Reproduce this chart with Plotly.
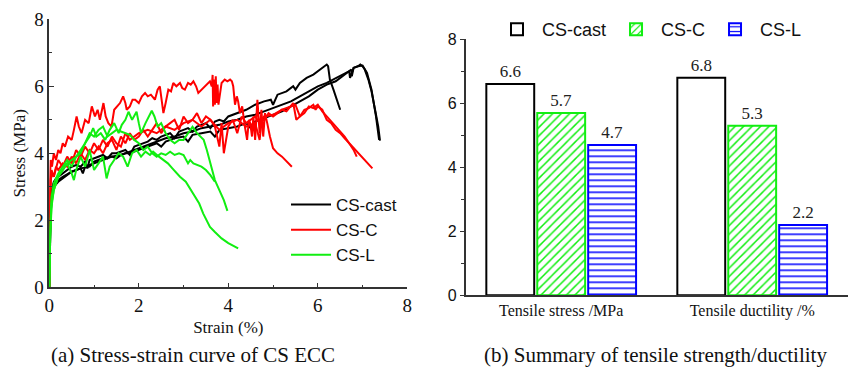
import plotly.graph_objects as go

SERIF = "Liberation Serif"
SANS = "Liberation Sans"

# ---------------- (a) stress-strain curves ----------------
cast1_x = [0, 0.01, 0.03, 0.06, 0.1, 0.15, 0.2, 0.3, 0.4, 0.5, 0.6, 0.7, 0.8, 0.85, 0.9, 1.0, 1.1, 1.2, 1.3, 1.4,
           1.5, 1.6, 1.7, 1.8, 1.9, 2.0, 2.1, 2.2, 2.3, 2.4, 2.5, 2.6, 2.7, 2.8, 2.9, 3.0, 3.1, 3.2, 3.3, 3.4,
           3.5, 3.6, 3.7, 3.8, 3.9, 4.0, 4.2, 4.4, 4.6, 4.8, 4.95, 5.0, 5.1, 5.2, 5.3, 5.45, 5.5, 5.6, 5.75,
           5.9, 6.0, 6.1, 6.2, 6.23, 6.27, 6.35, 6.45, 6.5]
cast1_y = [0, 1.5, 2.4, 2.9, 3.15, 3.25, 3.3, 3.4, 3.5, 3.6, 3.65, 3.6, 3.75, 3.55, 3.8, 3.85, 3.9, 3.95, 3.85, 4.0,
           4.0, 4.05, 4.1, 3.95, 4.2, 4.25, 4.3, 4.35, 4.45, 4.4, 4.5, 4.55, 4.6, 4.45, 4.65, 4.7, 4.75, 4.65, 4.8, 4.85,
           4.9, 4.75, 4.95, 5.0, 4.95, 5.1, 5.2, 5.3, 5.45, 5.55, 5.6, 5.45, 5.75, 5.8, 5.85, 6.0, 5.9, 6.1, 6.25,
           6.35, 6.45, 6.55, 6.65, 6.6, 6.2, 5.9, 5.5, 5.3]

cast2_x = [0, 0.01, 0.03, 0.06, 0.1, 0.2, 0.3, 0.4, 0.5, 0.6, 0.7, 0.75, 0.8, 0.9, 1.0, 1.1, 1.2, 1.3, 1.4, 1.5,
           1.6, 1.7, 1.8, 1.9, 2.0, 2.2, 2.4, 2.5, 2.6, 2.8, 3.0, 3.1, 3.2, 3.4, 3.6, 3.7, 3.8, 4.0, 4.2, 4.4,
           4.5, 4.6, 4.8, 5.0, 5.2, 5.4, 5.6, 5.8, 6.0, 6.2, 6.4, 6.5, 6.6, 6.7, 6.75, 6.76, 6.8, 6.9, 6.95,
           7.0, 7.05, 7.13, 7.2, 7.28, 7.35, 7.39]
cast2_y = [0, 1.3, 2.2, 2.7, 3.0, 3.15, 3.25, 3.35, 3.45, 3.5, 3.55, 3.4, 3.6, 3.65, 3.7, 3.75, 3.8, 3.85, 3.9, 3.85,
           3.95, 4.0, 4.0, 4.05, 4.1, 4.2, 4.3, 4.2, 4.35, 4.45, 4.5, 4.35, 4.55, 4.6, 4.65, 4.5, 4.7, 4.75, 4.8, 4.9,
           4.75, 4.95, 5.05, 5.15, 5.25, 5.4, 5.55, 5.7, 5.9, 6.05, 6.15, 6.25, 6.35, 6.45, 6.5, 6.3, 6.55, 6.6, 6.65,
           6.6, 6.5, 6.2, 5.85, 5.3, 4.8, 4.38]

cast3_x = [0, 0.02, 0.05, 0.1, 0.2, 0.3, 0.5, 0.7, 0.9, 1.0, 1.2, 1.4, 1.6, 1.8, 2.0, 2.2, 2.4, 2.6, 2.8, 3.0,
           3.2, 3.4, 3.6, 3.8, 4.0, 4.2, 4.4, 4.6, 4.8, 5.0, 5.2, 5.4, 5.6, 5.8, 6.0, 6.2, 6.4, 6.6, 6.7, 6.72,
           6.8, 6.9, 7.0, 7.1, 7.2, 7.3, 7.37]
cast3_y = [0, 2.0, 2.8, 3.1, 3.2, 3.3, 3.45, 3.55, 3.6, 3.75, 3.85, 3.9, 3.95, 4.05, 4.15, 4.25, 4.35, 4.45, 4.5, 4.6,
           4.65, 4.75, 4.8, 4.85, 4.95, 5.0, 5.1, 5.15, 5.25, 5.35, 5.45, 5.55, 5.7, 5.85, 6.0, 6.1, 6.25, 6.4, 6.45, 6.25,
           6.55, 6.6, 6.62, 6.4, 5.9, 5.1, 4.4]

c1_x = [0, 0.01, 0.03, 0.06, 0.1, 0.15, 0.2, 0.25, 0.3, 0.35, 0.42, 0.5, 0.55, 0.61, 0.66, 0.72, 0.8, 0.88, 0.95,
        1.02, 1.08, 1.13, 1.21, 1.26, 1.32, 1.39, 1.45, 1.52, 1.58, 1.65, 1.7, 1.73, 1.8, 1.86, 1.92, 2.0, 2.07,
        2.14, 2.2, 2.27, 2.36, 2.42, 2.47, 2.52, 2.55, 2.6, 2.66, 2.72, 2.77, 2.84, 2.92, 2.97, 3.03, 3.1, 3.16,
        3.22, 3.28, 3.33, 3.4, 3.48, 3.54, 3.59, 3.63, 3.65, 3.66, 3.68, 3.7, 3.72, 3.74, 3.76, 3.78, 3.85, 3.92,
        3.98, 4.04, 4.08, 4.11, 4.15, 4.19, 4.22, 4.26, 4.31, 4.37, 4.42, 4.46, 4.49, 4.53, 4.56, 4.6, 4.65, 4.7,
        4.74, 4.78, 4.82, 4.87, 4.93, 5.0, 5.1, 5.2, 5.3, 5.42]
c1_y = [0, 3.0, 3.8, 3.6, 4.0, 3.8, 4.1, 4.0, 4.3, 4.2, 4.5, 4.4, 4.7, 5.1, 4.8, 4.6, 5.0, 4.9, 5.4,
        5.1, 5.3, 5.0, 5.5, 5.1, 4.9, 4.8, 5.3, 5.4, 5.5, 5.7, 5.5, 5.3, 5.4, 5.6, 5.6, 5.5, 5.7,
        5.8, 5.7, 5.75, 5.6, 5.9, 6.0, 5.5, 5.2, 5.5, 5.9, 5.85, 6.1, 6.0, 6.1, 5.95, 5.9, 6.1, 6.05,
        6.15, 6.0, 5.8, 5.9, 6.0, 6.1, 6.15, 6.0, 6.34, 5.4, 6.2, 5.45, 6.3, 5.5, 6.05, 5.45, 6.1, 6.2,
        6.15, 6.2, 6.15, 6.0, 5.45, 5.7, 5.55, 5.2, 5.4, 4.8, 4.4, 5.0, 4.9, 4.5, 5.1, 4.4, 5.6, 4.6,
        5.3, 4.5, 5.2, 4.9, 4.5, 4.15, 4.0, 3.9, 3.75, 3.6]

c2_x = [0, 0.01, 0.03, 0.06, 0.1, 0.15, 0.2, 0.3, 0.4, 0.5, 0.6, 0.7, 0.8, 0.9, 1.0, 1.1, 1.2, 1.3, 1.4, 1.5,
        1.6, 1.7, 1.8, 1.9, 2.0, 2.1, 2.2, 2.3, 2.4, 2.5, 2.6, 2.7, 2.8, 2.9, 3.0, 3.1, 3.2, 3.3, 3.4, 3.5,
        3.6, 3.7, 3.8, 3.85, 3.9, 4.0, 4.1, 4.2, 4.3, 4.4, 4.5, 4.6, 4.7, 4.8, 4.9, 5.0, 5.1, 5.2, 5.3, 5.45,
        5.52, 5.6, 5.7, 5.8, 5.9, 5.95, 6.0, 6.1, 6.2, 6.3, 6.4, 6.5, 6.6, 6.7, 6.8, 6.9, 7.0, 7.1, 7.22]
c2_y = [0, 2.4, 3.2, 3.4, 3.3, 3.6, 3.5, 3.7, 3.6, 3.9, 3.7, 4.0, 3.8, 4.1, 4.0, 4.2, 4.0, 4.3, 4.4, 4.1,
        4.5, 4.3, 4.6, 4.4, 4.5, 4.7, 4.5, 4.7, 4.9, 4.6, 4.8, 4.9, 5.0, 4.7, 5.1, 4.9, 5.0, 5.2, 4.9, 5.1,
        5.0, 4.8, 4.2, 4.9, 4.0, 4.8, 5.0, 4.6, 5.1, 4.9, 5.0, 5.1, 4.9, 5.0, 5.2, 5.1, 5.2, 5.3, 5.25, 5.5,
        5.0, 5.1, 5.3, 5.35, 5.45, 5.3, 5.4, 5.3, 5.0, 4.9, 4.7, 4.6, 4.45, 4.3, 4.15, 4.0, 3.85, 3.7, 3.55]

c3_x = [0, 0.02, 0.05, 0.1, 0.2, 0.3, 0.4, 0.5, 0.6, 0.7, 0.8, 0.9, 1.0, 1.1, 1.2, 1.3, 1.4, 1.5, 1.6, 1.7,
        1.8, 1.9, 2.0, 2.2, 2.4, 2.6, 2.8, 3.0, 3.2, 3.4, 3.6, 3.8, 4.0, 4.2, 4.4, 4.6, 4.7, 4.75, 4.8, 5.0,
        5.2, 5.4, 5.5, 5.6, 5.7, 5.8, 5.9, 6.0, 6.1, 6.2, 6.3, 6.4, 6.5, 6.6, 6.7, 6.8, 6.87]
c3_y = [0, 2.8, 3.5, 3.3, 3.8, 3.6, 3.9, 3.7, 4.1, 3.9, 4.2, 4.0, 4.3, 4.1, 4.4, 4.2, 4.5, 4.3, 4.2, 4.6,
        4.4, 4.5, 4.6, 4.7, 4.6, 4.8, 4.7, 4.9, 5.0, 4.8, 5.0, 4.7, 4.9, 5.0, 4.8, 4.9, 4.4, 5.0, 5.1, 5.15,
        5.3, 5.4, 5.45, 5.1, 5.2, 5.4, 5.35, 5.45, 5.25, 5.1, 4.95, 4.8, 4.65, 4.5, 4.3, 4.1, 3.9]

l1_x = [0, 0.02, 0.05, 0.1, 0.2, 0.3, 0.4, 0.5, 0.6, 0.7, 0.8, 0.9, 0.98, 1.05, 1.15, 1.25, 1.35, 1.45, 1.55,
        1.62, 1.7, 1.77, 1.85, 1.95, 2.0, 2.05, 2.15, 2.22, 2.29, 2.35, 2.42, 2.5, 2.6, 2.7, 2.8, 2.9, 3.0,
        3.1, 3.2, 3.3, 3.37, 3.45, 3.52, 3.6, 3.7, 3.8, 3.9, 3.98]
l1_y = [0, 1.6, 2.5, 2.9, 3.3, 3.5, 3.7, 3.8, 3.9, 4.0, 4.3, 4.5, 4.75, 4.5, 4.6, 4.4, 4.7, 4.9, 4.6,
        4.85, 5.0, 5.24, 5.0, 5.24, 4.9, 4.6, 4.9, 5.1, 5.27, 5.1, 4.8, 4.9, 4.6, 4.4, 4.3, 4.4, 4.4,
        4.6, 4.79, 4.6, 4.5, 4.4, 4.1, 3.7, 3.2, 2.9, 2.6, 2.28]

l2_x = [0, 0.02, 0.05, 0.1, 0.2, 0.3, 0.4, 0.5, 0.6, 0.7, 0.8, 0.9, 1.0, 1.1, 1.2, 1.3, 1.4, 1.5, 1.6, 1.7,
        1.8, 1.9, 2.0, 2.1, 2.2, 2.3, 2.4, 2.5, 2.6, 2.7, 2.8, 2.9, 3.0, 3.1, 3.15, 3.22, 3.3, 3.4, 3.5, 3.6, 3.7]
l2_y = [0, 1.8, 2.7, 3.1, 3.4, 3.6, 3.8, 3.6, 3.9, 4.1, 4.3, 4.6, 4.5, 4.7, 4.8, 4.5, 4.6, 4.7, 4.65, 4.6,
        4.55, 4.4, 4.3, 4.1, 4.2, 4.0, 3.9, 4.0, 3.95, 4.05, 3.95, 4.0, 3.95, 3.7, 3.8, 3.7, 3.65, 3.6, 3.5, 3.35, 3.15]

l3_x = [0, 0.02, 0.05, 0.1, 0.15, 0.2, 0.3, 0.4, 0.5, 0.55, 0.6, 0.7, 0.8, 0.9, 0.95, 1.0, 1.1, 1.2, 1.28,
        1.35, 1.45, 1.55, 1.65, 1.75, 1.85, 1.95, 2.05, 2.15, 2.25, 2.32, 2.45, 2.55, 2.65, 2.75, 2.92, 3.05,
        3.22, 3.35, 3.44, 3.52, 3.59, 3.7, 3.85, 4.0, 4.1, 4.22]
l3_y = [0, 1.5, 2.4, 2.9, 3.1, 3.3, 3.5, 3.7, 3.4, 3.2, 3.5, 3.9, 3.6, 4.1, 3.8, 3.5, 3.7, 3.9, 3.25,
        3.6, 3.8, 4.0, 3.9, 3.6, 4.0, 4.1, 3.9, 4.05, 3.95, 4.05, 3.9, 3.8, 3.7, 3.55, 3.3, 3.15,
        2.8, 2.5, 2.2, 2.0, 1.8, 1.65, 1.46, 1.32, 1.24, 1.16]

curve_groups = [
    ("CS-cast", "#000000", [(cast1_x, cast1_y), (cast2_x, cast2_y), (cast3_x, cast3_y)]),
    ("CS-C", "#ff0000", [(c1_x, c1_y), (c2_x, c2_y), (c3_x, c3_y)]),
    ("CS-L", "#11ee11", [(l1_x, l1_y), (l2_x, l2_y), (l3_x, l3_y)]),
]

# ---------------- (b) summary bars ----------------
categories = ["Tensile stress /MPa", "Tensile ductility /%"]
bar_names = ["CS-cast", "CS-C", "CS-L"]
bar_values = {
    "CS-cast": [6.6, 6.8],
    "CS-C": [5.7, 5.3],
    "CS-L": [4.7, 2.2],
}
bar_styles = {
    "CS-cast": dict(line="#000000", shape="", fg="#000000"),
    "CS-C": dict(line="#11ee11", shape="/", fg="#11ee11"),
    "CS-L": dict(line="#0000ff", shape="-", fg="#0000ff"),
}

fig = go.Figure()

for name, color, curves in curve_groups:
    for i, (xs, ys) in enumerate(curves):
        fig.add_trace(go.Scatter(
            x=xs, y=ys, mode="lines", name=name,
            line=dict(color=color, width=2),
            legendgroup=name, showlegend=(i == 0), legend="legend",
            xaxis="x", yaxis="y",
        ))

for name in bar_names:
    st = bar_styles[name]
    pattern = dict(shape=st["shape"], fgcolor=st["fg"], bgcolor="white",
                   size=6, solidity=0.25, fillmode="replace")
    fig.add_trace(go.Bar(
        x=categories, y=bar_values[name], name=name,
        marker=dict(color="white", line=dict(color=st["line"], width=2), pattern=pattern),
        texttemplate="%{y:.1f}", textposition="outside",
        textfont=dict(family=SERIF, size=17, color="#222"),
        cliponaxis=False,
        legend="legend2", xaxis="x2", yaxis="y2",
    ))

axis_line = dict(showline=True, linecolor="#333", linewidth=1.5, showgrid=False,
                 zeroline=False, mirror=False, automargin=False)

fig.update_layout(
    width=850, height=380,
    margin=dict(l=0, r=0, t=0, b=0, autoexpand=False),
    paper_bgcolor="white", plot_bgcolor="white",
    barmode="group", bargap=0.2, bargroupgap=0.06,
    xaxis=dict(domain=[49.3 / 850, 407.3 / 850], range=[0, 8], anchor="y",
               tickvals=[0, 2, 4, 6, 8], ticks="inside", ticklen=5, tickcolor="#333",
               minor=dict(tickvals=[1, 3, 5, 7], ticks="inside", ticklen=3, tickcolor="#333"),
               tickfont=dict(family=SERIF, size=19, color="#111"),
               title=dict(text="Strain (%)", font=dict(family=SERIF, size=17, color="#111"), standoff=6),
               **axis_line),
    yaxis=dict(domain=[1 - 287.3 / 380, 1 - 19.3 / 380], range=[0, 8], anchor="x",
               tickvals=[0, 2, 4, 6, 8], ticks="inside", ticklen=5, tickcolor="#333",
               minor=dict(tickvals=[1, 3, 5, 7], ticks="inside", ticklen=3, tickcolor="#333"),
               tickfont=dict(family=SERIF, size=19, color="#111"),
               title=dict(text="Stress (MPa)", font=dict(family=SERIF, size=17, color="#111"), standoff=4),
               **axis_line),
    xaxis2=dict(domain=[465.7 / 850, 847.7 / 850], range=[-0.5, 1.5], anchor="y2",
                ticks="", tickfont=dict(family=SERIF, size=16, color="#111"),
                **axis_line),
    yaxis2=dict(domain=[1 - 295.3 / 380, 1 - 39.3 / 380], range=[0, 8], anchor="x2",
                tickvals=[0, 2, 4, 6, 8], ticks="outside", ticklen=4, tickcolor="#333",
                minor=dict(tickvals=[1, 3, 5, 7], ticks="outside", ticklen=3, tickcolor="#333"),
                tickfont=dict(family=SANS, size=16, color="#111"),
                **axis_line),
    legend=dict(x=286 / 850, y=1 - 187 / 380, xanchor="left", yanchor="top",
                bgcolor="rgba(0,0,0,0)", font=dict(family=SANS, size=17, color="#111"),
                tracegroupgap=0, itemwidth=40),
    legend2=dict(orientation="h", x=492 / 850, y=1 - 11 / 380, xanchor="left", yanchor="top",
                 bgcolor="rgba(0,0,0,0)", font=dict(family=SANS, size=18, color="#111"),
                 itemwidth=40),
    annotations=[
        dict(text="(a) Stress-strain curve of CS ECC", x=193 / 850, y=1 - 355 / 380,
             xref="paper", yref="paper", xanchor="center", yanchor="middle", showarrow=False,
             font=dict(family=SERIF, size=21, color="#111")),
        dict(text="(b) Summary of tensile strength/ductility", x=655 / 850, y=1 - 355 / 380,
             xref="paper", yref="paper", xanchor="center", yanchor="middle", showarrow=False,
             font=dict(family=SERIF, size=21, color="#111")),
    ],
)

fig.write_html("out.html")
